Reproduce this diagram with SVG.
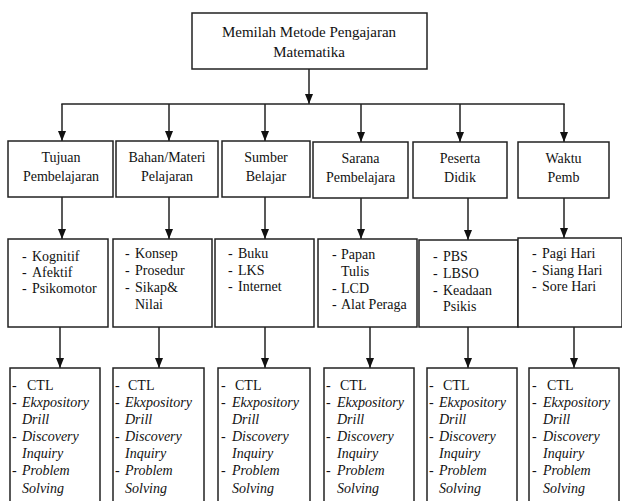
<svg xmlns="http://www.w3.org/2000/svg" width="622" height="501" viewBox="0 0 622 501">
<style>
.box{fill:#fff;stroke:#222;stroke-width:1.5}
.ln{fill:none;stroke:#222;stroke-width:1.5}
text{fill:#111;font-size:14px}
.t{font-size:15px;text-anchor:middle}
.c{text-anchor:middle}
.i{font-style:italic}
</style>
<defs>
<marker id="ah" markerUnits="userSpaceOnUse" markerWidth="10" markerHeight="10" viewBox="0 0 10 10" refX="10" refY="5" orient="auto">
<path d="M0,1 L10,5 L0,9 Z" fill="#111"/>
</marker>
</defs>
<rect width="622" height="501" fill="#fff"/>
<g id="connectors">
<line class="ln" x1="309" y1="69" x2="309" y2="104" marker-end="url(#ah)"/>
<line class="ln" x1="61.3" y1="104" x2="564.7" y2="104"/>
<line class="ln" x1="62" y1="104" x2="62" y2="141" marker-end="url(#ah)"/>
<line class="ln" x1="169" y1="104" x2="169" y2="141" marker-end="url(#ah)"/>
<line class="ln" x1="265" y1="104" x2="265" y2="141" marker-end="url(#ah)"/>
<line class="ln" x1="361" y1="104" x2="361" y2="142" marker-end="url(#ah)"/>
<line class="ln" x1="460" y1="104" x2="460" y2="142" marker-end="url(#ah)"/>
<line class="ln" x1="564" y1="104" x2="564" y2="142" marker-end="url(#ah)"/>
<line class="ln" x1="62" y1="197" x2="62" y2="239" marker-end="url(#ah)"/>
<line class="ln" x1="169" y1="197" x2="169" y2="239" marker-end="url(#ah)"/>
<line class="ln" x1="265" y1="197" x2="265" y2="239" marker-end="url(#ah)"/>
<line class="ln" x1="361" y1="198" x2="361" y2="239" marker-end="url(#ah)"/>
<line class="ln" x1="468" y1="198" x2="468" y2="240" marker-end="url(#ah)"/>
<line class="ln" x1="564" y1="198" x2="564" y2="238" marker-end="url(#ah)"/>
<line class="ln" x1="60" y1="327" x2="60" y2="368" marker-end="url(#ah)"/>
<line class="ln" x1="159" y1="327" x2="159" y2="368" marker-end="url(#ah)"/>
<line class="ln" x1="265" y1="327" x2="265" y2="368" marker-end="url(#ah)"/>
<line class="ln" x1="370" y1="327" x2="370" y2="368" marker-end="url(#ah)"/>
<line class="ln" x1="468" y1="327" x2="468" y2="368" marker-end="url(#ah)"/>
<line class="ln" x1="574" y1="327" x2="574" y2="368" marker-end="url(#ah)"/>
</g>
<g font-family="Liberation Serif, serif">
<g id="root">
<rect class="box" x="192" y="13" width="235" height="56"/>
<text class="t" x="309" y="37">Memilah Metode Pengajaran</text>
<text class="t" x="309" y="57">Matematika</text>
</g>
<g id="n1">
<rect class="box" x="8" y="141" width="105" height="56"/>
<text class="c" x="61" y="162">Tujuan</text>
<text class="c" x="61" y="181">Pembelajaran</text>
</g>
<g id="n2">
<rect class="box" x="116" y="141" width="102" height="56"/>
<text class="c" x="167" y="162">Bahan/Materi</text>
<text class="c" x="167" y="181">Pelajaran</text>
</g>
<g id="n3">
<rect class="box" x="222" y="141" width="88" height="56"/>
<text class="c" x="266" y="162">Sumber</text>
<text class="c" x="266" y="181">Belajar</text>
</g>
<g id="n4">
<rect class="box" x="313" y="142" width="95" height="56"/>
<text class="c" x="360.5" y="163">Sarana</text>
<text class="c" x="360.5" y="182">Pembelajara</text>
</g>
<g id="n5">
<rect class="box" x="413" y="142" width="94" height="56"/>
<text class="c" x="460" y="163">Peserta</text>
<text class="c" x="460" y="182">Didik</text>
</g>
<g id="n6">
<rect class="box" x="518" y="142" width="91" height="56"/>
<text class="c" x="563.5" y="163">Waktu</text>
<text class="c" x="563.5" y="182">Pemb</text>
</g>
<g id="m1">
<rect class="box" x="8" y="239" width="100" height="88"/>
<text x="22" y="261">-</text><text x="32" y="261">Kognitif</text>
<text x="22" y="277">-</text><text x="32" y="277">Afektif</text>
<text x="22" y="293">-</text><text x="32" y="293">Psikomotor</text>
</g>
<g id="m2">
<rect class="box" x="113" y="239" width="99" height="88"/>
<text x="125" y="258">-</text><text x="135" y="258">Konsep</text>
<text x="125" y="275">-</text><text x="135" y="275">Prosedur</text>
<text x="125" y="292">-</text><text x="135" y="292">Sikap&amp;</text>
<text x="135" y="309">Nilai</text>
</g>
<g id="m3">
<rect class="box" x="215" y="239" width="99" height="88"/>
<text x="228" y="258">-</text><text x="238" y="258">Buku</text>
<text x="228" y="275">-</text><text x="238" y="275">LKS</text>
<text x="228" y="291">-</text><text x="238" y="291">Internet</text>
</g>
<g id="m4">
<rect class="box" x="318" y="239" width="99" height="88"/>
<text x="332" y="259">-</text><text x="341" y="259">Papan</text>
<text x="341" y="276">Tulis</text>
<text x="332" y="293">-</text><text x="341" y="293">LCD</text>
<text x="332" y="309">-</text><text x="341" y="309">Alat Peraga</text>
</g>
<g id="m5">
<rect class="box" x="419" y="240" width="99" height="87"/>
<text x="433" y="261">-</text><text x="443" y="261">PBS</text>
<text x="433" y="278">-</text><text x="443" y="278">LBSO</text>
<text x="433" y="295">-</text><text x="443" y="295">Keadaan</text>
<text x="443" y="311">Psikis</text>
</g>
<g id="m6">
<rect class="box" x="518" y="238" width="104" height="89"/>
<text x="532" y="258">-</text><text x="542" y="258">Pagi Hari</text>
<text x="532" y="275">-</text><text x="542" y="275">Siang Hari</text>
<text x="532" y="291">-</text><text x="542" y="291">Sore Hari</text>
</g>
<g id="k1" transform="translate(10,0)">
<rect class="box" x="0" y="368" width="90" height="150"/>
<text x="2" y="390">-</text><text x="17" y="390">CTL</text>
<text x="2" y="407">-</text><text class="i" x="12" y="407">Ekxpository</text>
<text class="i" x="12" y="424">Drill</text>
<text x="2" y="441">-</text><text class="i" x="12" y="441">Discovery</text>
<text class="i" x="12" y="458">Inquiry</text>
<text x="2" y="475">-</text><text class="i" x="12" y="475">Problem</text>
<text class="i" x="12" y="493">Solving</text>
</g>
<g id="k2" transform="translate(113,0)">
<rect class="box" x="0" y="368" width="91" height="150"/>
<text x="2" y="390">-</text><text x="15" y="390">CTL</text>
<text x="2" y="407">-</text><text class="i" x="12" y="407">Ekxpository</text>
<text class="i" x="12" y="424">Drill</text>
<text x="2" y="441">-</text><text class="i" x="12" y="441">Discovery</text>
<text class="i" x="12" y="458">Inquiry</text>
<text x="2" y="475">-</text><text class="i" x="12" y="475">Problem</text>
<text class="i" x="12" y="493">Solving</text>
</g>
<g id="k3" transform="translate(218,0)">
<rect class="box" x="0" y="368" width="92" height="150"/>
<text x="3" y="390">-</text><text x="17" y="390">CTL</text>
<text x="3" y="407">-</text><text class="i" x="14" y="407">Ekxpository</text>
<text class="i" x="14" y="424">Drill</text>
<text x="3" y="441">-</text><text class="i" x="14" y="441">Discovery</text>
<text class="i" x="14" y="458">Inquiry</text>
<text x="3" y="475">-</text><text class="i" x="14" y="475">Problem</text>
<text class="i" x="14" y="493">Solving</text>
</g>
<g id="k4" transform="translate(324,0)">
<rect class="box" x="0" y="368" width="90" height="150"/>
<text x="2" y="390">-</text><text x="16" y="390">CTL</text>
<text x="2" y="407">-</text><text class="i" x="13" y="407">Ekxpository</text>
<text class="i" x="13" y="424">Drill</text>
<text x="2" y="441">-</text><text class="i" x="13" y="441">Discovery</text>
<text class="i" x="13" y="458">Inquiry</text>
<text x="2" y="475">-</text><text class="i" x="13" y="475">Problem</text>
<text class="i" x="13" y="493">Solving</text>
</g>
<g id="k5" transform="translate(427,0)">
<rect class="box" x="0" y="368" width="90" height="150"/>
<text x="2" y="390">-</text><text x="16" y="390">CTL</text>
<text x="2" y="407">-</text><text class="i" x="12" y="407">Ekxpository</text>
<text class="i" x="12" y="424">Drill</text>
<text x="2" y="441">-</text><text class="i" x="12" y="441">Discovery</text>
<text class="i" x="12" y="458">Inquiry</text>
<text x="2" y="475">-</text><text class="i" x="12" y="475">Problem</text>
<text class="i" x="12" y="493">Solving</text>
</g>
<g id="k6" transform="translate(529,0)">
<rect class="box" x="0" y="368" width="90" height="150"/>
<text x="3" y="390">-</text><text x="18" y="390">CTL</text>
<text x="3" y="407">-</text><text class="i" x="14" y="407">Ekxpository</text>
<text class="i" x="14" y="424">Drill</text>
<text x="3" y="441">-</text><text class="i" x="14" y="441">Discovery</text>
<text class="i" x="14" y="458">Inquiry</text>
<text x="3" y="475">-</text><text class="i" x="14" y="475">Problem</text>
<text class="i" x="14" y="493">Solving</text>
</g>
</g>
</svg>
